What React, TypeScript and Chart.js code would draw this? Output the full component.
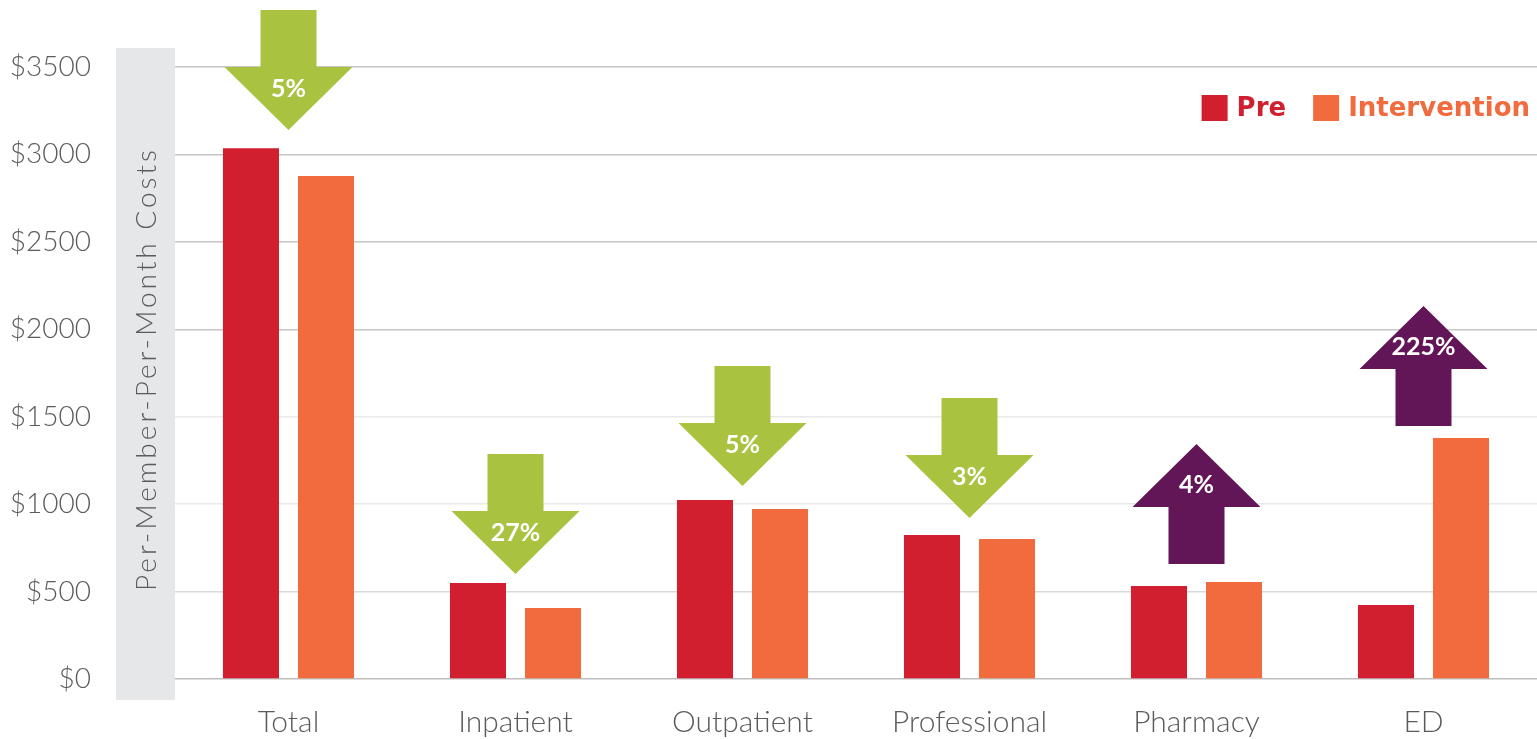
import React, { useEffect, useRef } from 'react';
import { Chart, registerables } from 'chart.js';
Chart.register(...registerables);

const categories = ['Total', 'Inpatient', 'Outpatient', 'Professional', 'Pharmacy', 'ED'];
const preValues = [3035, 549, 1024, 823, 532, 423];
const interventionValues = [2877, 406, 972, 801, 555, 1378];
const seriesLabels = ['Pre', 'Intervention'];
const changeLabels = ['5%', '27%', '5%', '3%', '4%', '225%'];
const changeDirections = ['down', 'down', 'down', 'down', 'up', 'up'];
const arrowTipValues = [3140, 600, 1104, 921, 1344, 2133];
const yAxisTitle = 'Per-Member-Per-Month Costs';
const yMin = 0;
const yMax = 3500;
const yStep = 500;

const RED = '#d11f30';
const ORANGE = '#f26b3f';
const GREEN = '#a9c23f';
const PURPLE = '#631657';
const TEXT = '#5a5b5d';

const decorPlugin = {
  id: 'decor',
  beforeDraw(chart: any) {
    const ctx = chart.ctx;
    const area = chart.chartArea;
    ctx.save();
    ctx.fillStyle = '#e6e7e9';
    ctx.fillRect(area.left - 59, area.top - 19, 59, area.bottom - area.top + 40);
    ctx.translate(area.left - 28, (area.top + area.bottom) / 2 - 4);
    ctx.rotate(-Math.PI / 2);
    ctx.fillStyle = TEXT;
    ctx.font = '300 28px Lato';
    (ctx as any).letterSpacing = '3px';
    ctx.textAlign = 'center';
    ctx.textBaseline = 'middle';
    ctx.fillText(yAxisTitle, 0, 0);
    ctx.restore();
  },
  afterDraw(chart: any) {
    const ctx = chart.ctx;
    const xs = chart.scales.x;
    const ys = chart.scales.y;
    ctx.save();
    const shaftHalf = 28;
    const headHalf = 64;
    const headLen = 63;
    const totalLen = 120;
    changeLabels.forEach((lab, i) => {
      const cx = xs.getPixelForValue(i);
      const tip = ys.getPixelForValue(arrowTipValues[i]);
      const down = changeDirections[i] === 'down';
      const s = down ? -1 : 1;
      const base = tip + s * headLen;
      const end = tip + s * totalLen;
      ctx.fillStyle = down ? GREEN : PURPLE;
      ctx.beginPath();
      ctx.moveTo(cx, tip);
      ctx.lineTo(cx + headHalf, base);
      ctx.lineTo(cx + shaftHalf, base);
      ctx.lineTo(cx + shaftHalf, end);
      ctx.lineTo(cx - shaftHalf, end);
      ctx.lineTo(cx - shaftHalf, base);
      ctx.lineTo(cx - headHalf, base);
      ctx.closePath();
      ctx.fill();
      ctx.fillStyle = '#ffffff';
      ctx.font = 'bold 25px Lato';
      ctx.textAlign = 'center';
      ctx.textBaseline = 'middle';
      ctx.fillText(lab, cx, base - s * 22);
    });
    const colors = [RED, ORANGE];
    ctx.font = 'bold 26px "DejaVu Sans"';
    ctx.textBaseline = 'middle';
    ctx.textAlign = 'left';
    const box = 26;
    const gapText = 9;
    const gapItem = 27;
    const ly = chart.chartArea.top + 41;
    let x = chart.chartArea.right - 7;
    for (let k = seriesLabels.length - 1; k >= 0; k--) {
      const w = ctx.measureText(seriesLabels[k]).width;
      x -= w;
      ctx.fillStyle = colors[k];
      ctx.fillText(seriesLabels[k], x, ly + 1);
      x -= gapText + box;
      ctx.fillRect(x, ly - box / 2, box, box);
      x -= gapItem;
    }
    ctx.restore();
  },
};

export default function App() {
  const ref = useRef<HTMLCanvasElement>(null);
  useEffect(() => {
    document.body.style.margin = '0';
    const chart = new Chart(ref.current as HTMLCanvasElement, {
      type: 'bar',
      data: {
        labels: categories,
        datasets: [
          { label: seriesLabels[0], data: preValues, backgroundColor: RED, categoryPercentage: 0.661, barPercentage: 0.747 },
          { label: seriesLabels[1], data: interventionValues, backgroundColor: ORANGE, categoryPercentage: 0.661, barPercentage: 0.747 },
        ],
      },
      options: {
        responsive: false,
        animation: false,
        devicePixelRatio: 1,
        layout: { padding: { top: 67, right: 0, bottom: 0, left: 0 } },
        plugins: { legend: { display: false }, tooltip: { enabled: false }, title: { display: false } },
        scales: {
          x: {
            grid: { display: false, drawTicks: false },
            border: { display: false },
            ticks: { color: TEXT, font: { family: 'Lato', size: 30, weight: '300' }, padding: 25 },
            afterFit: (s: any) => { s.height = 60; },
          },
          y: {
            min: yMin,
            max: yMax,
            border: { display: false },
            grid: {
              drawTicks: false,
              lineWidth: 1.5,
              color: (c: any) => {
                const v = c.tick ? c.tick.value : 0;
                if (v === 0) return '#bdbdbd';
                if (v === 500) return '#dadada';
                if (v === 1000 || v === 1500) return '#e9e9e9';
                return '#c6c6c6';
              },
            },
            ticks: {
              stepSize: yStep,
              color: TEXT,
              padding: 84,
              font: { family: 'Lato', size: 28, weight: '300' },
              callback: (v: any) => '$' + v,
            },
            afterFit: (s: any) => {
              s.width = 175;
              s.paddingTop = 0;
              s.paddingBottom = 0;
            },
          },
        },
      },
      plugins: [decorPlugin],
    });
    return () => chart.destroy();
  }, []);
  return (
    <div style={{ position: 'fixed', left: 0, top: 0, width: 1537, height: 739, background: '#fff' }}>
      <canvas ref={ref} width={1537} height={739} />
    </div>
  );
}
